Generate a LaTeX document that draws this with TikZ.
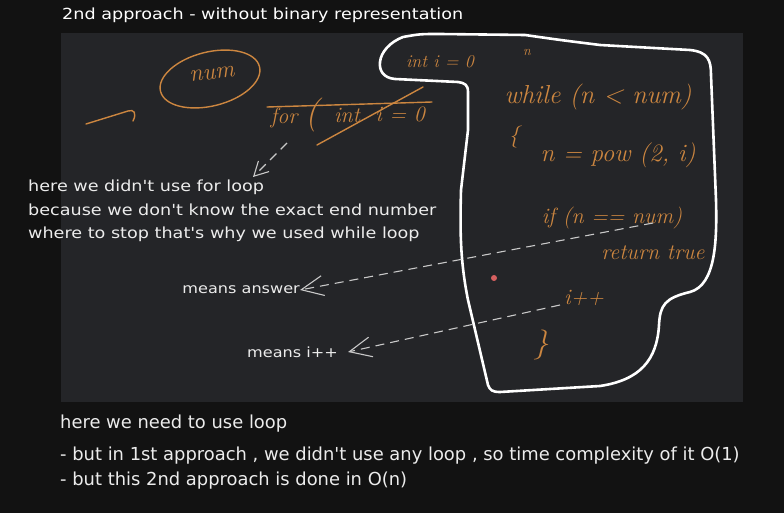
\documentclass[tikz,border=0pt]{standalone}
\usepackage{fontspec}
\newfontfamily\chalkfont[FakeStretch=1.15]{DejaVu Sans}
\newfontfamily\slimfont{DejaVu Sans}
\definecolor{pagebg}{RGB}{18,18,18}
\definecolor{boardbg}{RGB}{36,37,40}
\definecolor{inkorange}{RGB}{204,134,64}
\definecolor{chalk}{RGB}{236,236,236}
\definecolor{laserred}{RGB}{214,96,96}
\usetikzlibrary{arrows.meta}

\begin{document}
\begin{tikzpicture}[x=1pt, y=-1pt,
  chalktext/.style={text=chalk, inner sep=0pt, anchor=west, font=\chalkfont\fontsize{15.3}{18}\selectfont},
  slimtext/.style={text=chalk, inner sep=0pt, anchor=west, font=\slimfont\fontsize{17.9}{20}\selectfont},
  inktext/.style={text=inkorange, inner sep=0pt, font=\itshape\fontsize{22}{24}\selectfont},
  inkline/.style={draw=inkorange, line width=1.4pt, line cap=round},
  hint/.style={draw=chalk!85!black, line width=1.1pt, dash pattern=on 9pt off 6pt, -{Straight Barb[length=22pt, width=20pt]}}]

  % Page and board
  \useasboundingbox (0,0) rectangle (784,513);
  \fill[pagebg] (0,0) rectangle (784,513);
  \fill[boardbg] (61,33) rectangle (743,402);

  % Title
  \node[chalktext, text=white] (title) at (62,15) {2nd approach - without binary representation};

  % Left sketch
  \node[inktext, font=\itshape\fontsize{24}{26}\selectfont, rotate=6] (num) at (212,74) {num};
  \draw[inkline, rotate around={14:(210,79)}] (210,79) ellipse (51pt and 27pt);
  \coordinate (flowtail) at (86,124);
  \coordinate (flowhead) at (128,111);
  \draw[inkline] (flowtail) -- (flowhead) .. controls (134,109) and (137,113) .. (133,121);

  \node[inktext] (forkw) at (284,118) {for};
  \node[inktext, font=\itshape\fontsize{34}{36}\selectfont] (forpar) at (312,115) {(};
  \node[inktext] (forint) at (347,115) {int};
  \node[inktext] (forinit) at (400,114) {i = 0};
  \draw[inkline] (267,107) -- (432,102);
  \draw[inkline] (317,145) -- (423,87);

  % Notes
  \node[chalktext, align=left, anchor=north west, font=\chalkfont\fontsize{15.3}{23.5}\selectfont] (why) at (28,180)
    {here we didn't use for loop\\because we don't know the exact end number\\where to stop that's why we used while loop};
  \node[chalktext, anchor=east, font=\chalkfont\fontsize{14}{16}\selectfont] (ans) at (300,290) {means answer};
  \node[chalktext, font=\chalkfont\fontsize{14}{16}\selectfont] (incr) at (247,352) {means i++};

  % Code block
  \draw[white, line width=2.6pt, line cap=round, line join=round]
    (403,37) .. controls (420,34) .. (440,34) -- (525,35) .. controls (560,40) .. (600,45) -- (690,50)
    .. controls (708,52) and (711,60) .. (711,75) -- (716,200)
    .. controls (717,240) and (716,285) .. (690,292)
    .. controls (665,298) and (660,305) .. (659,325)
    .. controls (657,360) and (640,380) .. (600,386) -- (500,392)
    .. controls (492,392) and (490,390) .. (488,385) -- (468,300)
    .. controls (460,260) and (460,230) .. (461,190) -- (468,130) -- (468,92)
    .. controls (468,85) and (465,83) .. (458,82) -- (395,79)
    .. controls (383,78) and (379,70) .. (380,62)
    .. controls (381,52) and (390,42) .. (403,37);

  \node[inktext, font=\itshape\fontsize{18}{20}\selectfont] (init) at (440,62) {int i = 0};
  \node[inktext, font=\itshape\fontsize{14}{16}\selectfont] (sup) at (527,52) {n};
  \node[inktext, font=\itshape\fontsize{26}{28}\selectfont] (loop) at (598,97) {while (n < num)};
  \node[inktext] (open) at (514,137) {\{};
  \node[inktext, font=\itshape\fontsize{25}{27}\selectfont] (power) at (618,155) {n = pow (2, i)};
  \node[inktext] (check) at (612,218) {if (n == num)};
  \node[inktext] (ret) at (653,253) {return true};
  \node[inktext] (step) at (584,298) {i++};
  \node[inktext, font=\itshape\fontsize{30}{32}\selectfont] (close) at (541,345) {\}};

  % Laser pointer
  \fill[laserred] (494,278) circle (3pt);

  % Hints
  \coordinate (checkend) at (653,223);
  \coordinate (stepend) at (560,305);
  \coordinate (forend) at (287,143);
  \draw[hint] (checkend) -- (ans.east);
  \draw[hint] (stepend) -- ([xshift=10pt]incr.east);
  \draw[hint, -{Straight Barb[length=14pt, width=15pt]}] (forend) -- (253,177);

  % Summary
  \node[slimtext] (need) at (60,424) {here we need to use loop};
  \node[slimtext] (first) at (60,456) {- but in 1st approach , we didn't use any loop , so time complexity of it O(1)};
  \node[slimtext] (second) at (60,481) {- but this 2nd approach is done in O(n)};
\end{tikzpicture}
\end{document}
